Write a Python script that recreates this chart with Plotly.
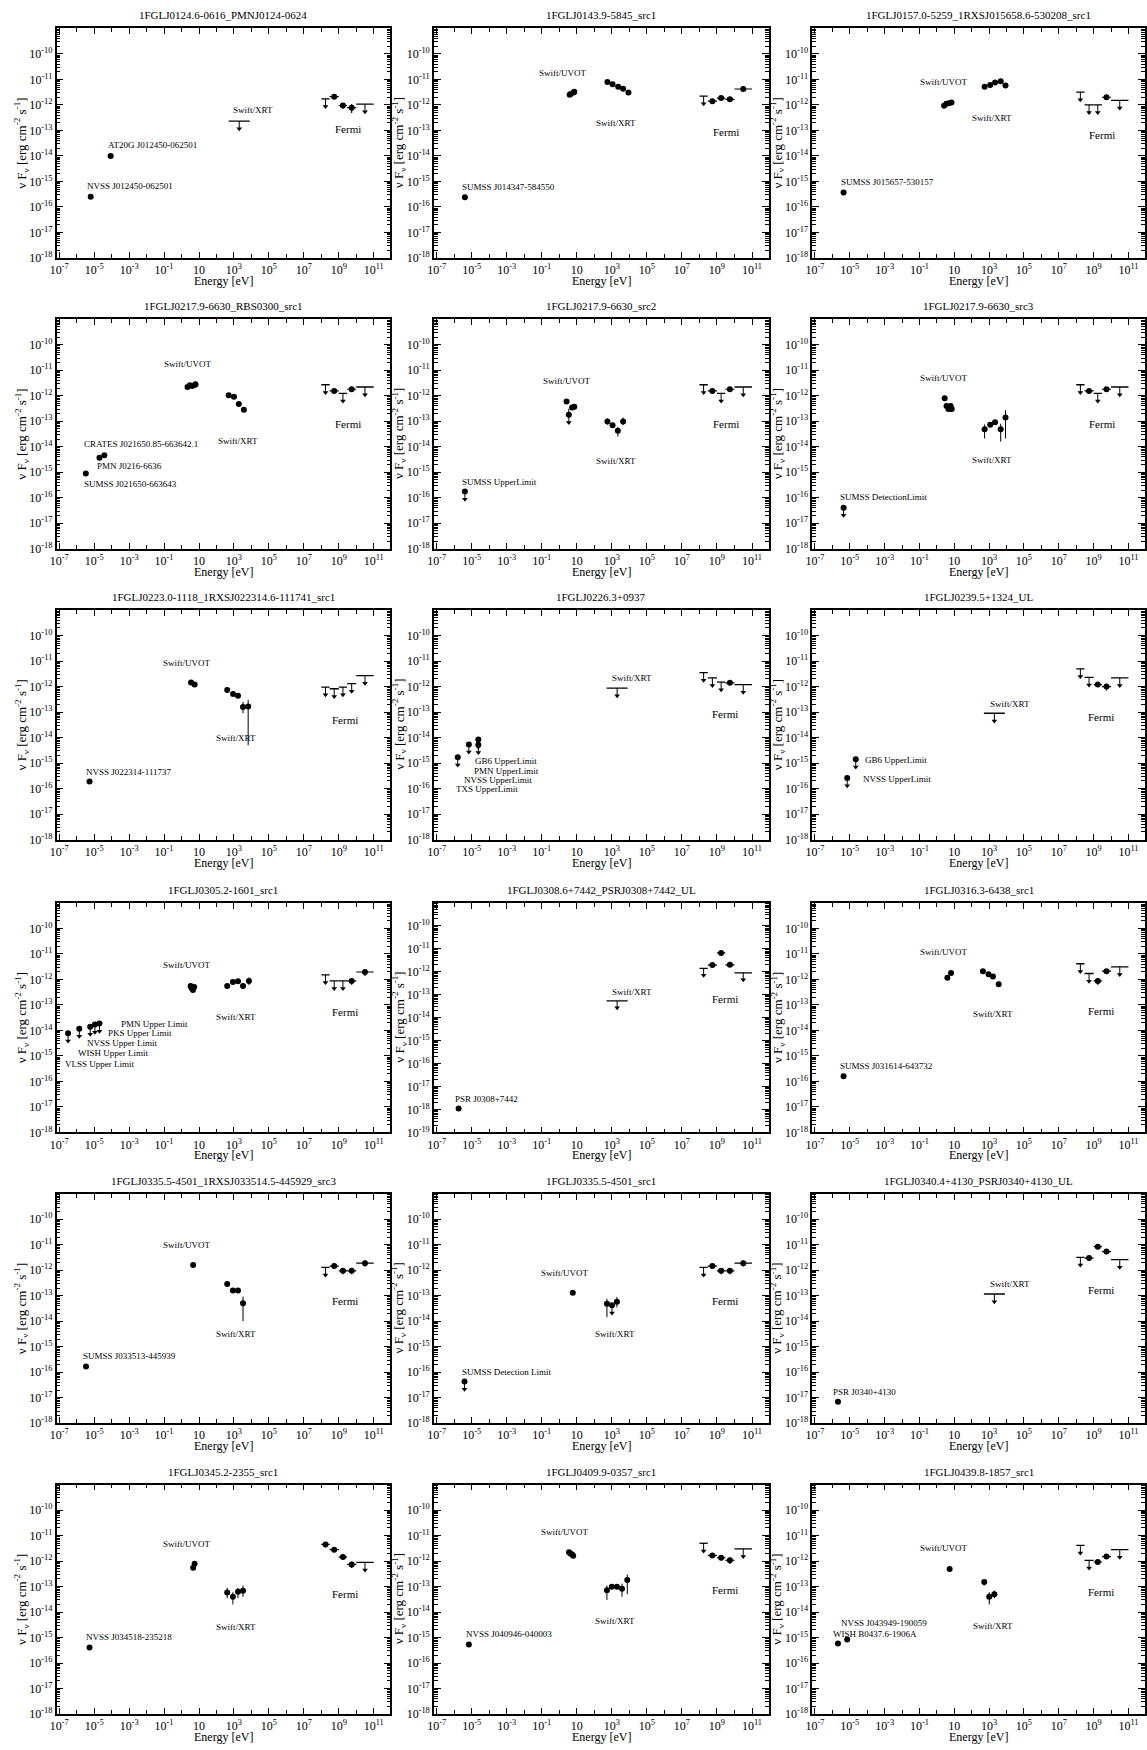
import plotly.graph_objects as go

# ---------------------------------------------------------------- data
TITLES = [
    "1FGLJ0124.6-0616_PMNJ0124-0624",
    "1FGLJ0143.9-5845_src1",
    "1FGLJ0157.0-5259_1RXSJ015658.6-530208_src1",
    "1FGLJ0217.9-6630_RBS0300_src1",
    "1FGLJ0217.9-6630_src2",
    "1FGLJ0217.9-6630_src3",
    "1FGLJ0223.0-1118_1RXSJ022314.6-111741_src1",
    "1FGLJ0226.3+0937",
    "1FGLJ0239.5+1324_UL",
    "1FGLJ0305.2-1601_src1",
    "1FGLJ0308.6+7442_PSRJ0308+7442_UL",
    "1FGLJ0316.3-6438_src1",
    "1FGLJ0335.5-4501_1RXSJ033514.5-445929_src3",
    "1FGLJ0335.5-4501_src1",
    "1FGLJ0340.4+4130_PSRJ0340+4130_UL",
    "1FGLJ0345.2-2355_src1",
    "1FGLJ0409.9-0357_src1",
    "1FGLJ0439.8-1857_src1",
]

# lowest decade of the flux axis (top is always 1e-9)
Y_FLOOR = [-18, -18, -18, -18, -18, -18, -18, -18, -18,
           -18, -19, -18, -18, -18, -18, -18, -18, -18]

# detected points (radio / UVOT / XRT): energy [eV], nuFnu [erg cm^-2 s^-1]
DOT_E = [
    [6.3e-6, 8.7e-5],
    [4.1e-6, 3.9, 4.4, 6.6, 7.2, 560, 1100, 2300, 4400, 8900],
    [4.4e-6, 2.6, 3.5, 4.9, 6.9, 550, 1150, 2200, 4600, 8700],
    [3.3e-6, 2.0e-5, 3.8e-5, 2.2, 3.0, 4.1, 5.9, 6.3, 500, 1000, 1900, 3700],
    [2.6, 5.4, 7.2, 560, 1100, 2200, 4400],
    [2.8, 3.6, 4.6, 5.2, 6.2, 7.1, 550, 1150, 2200, 4600, 8700],
    [5.4e-6, 3.5, 5.6, 410, 890, 1700, 3300, 6500],
    [],
    [],
    [3.3, 3.8, 4.5, 5.3, 410, 870, 1700, 3300, 7200],
    [1.8e-6],
    [4.4e-6, 4.0, 6.5, 440, 930, 1660, 3550],
    [3.4e-6, 4.6, 410, 870, 1700, 3300],
    [5.9, 525, 1950],
    [2.1e-6],
    [5.4e-6, 4.6, 5.6, 410, 870, 1700, 3300],
    [6.9e-6, 3.6, 4.3, 5.4, 6.2, 525, 1000, 1950, 3800, 7600],
    [2.1e-6, 7.1e-6, 5.4, 525, 1020, 2000],
]
DOT_F = [
    [2.5e-16, 1.0e-14],
    [2.4e-16, 2.5e-12, 2.7e-12, 3.1e-12, 3.3e-12, 8.0e-12, 6.5e-12, 5.1e-12, 4.3e-12, 3.1e-12],
    [3.7e-16, 9.2e-13, 1.12e-12, 1.15e-12, 1.23e-12, 5.1e-12, 6.0e-12, 7.6e-12, 8.5e-12, 5.8e-12],
    [8.9e-16, 3.7e-15, 4.6e-15, 2.2e-12, 2.6e-12, 2.4e-12, 2.7e-12, 2.8e-12, 1.04e-12, 9.1e-13, 4.7e-13, 2.8e-13],
    [5.9e-13, 3.5e-13, 3.7e-13, 9.8e-14, 6.9e-14, 4.2e-14, 9.8e-14],
    [8e-13, 4e-13, 3e-13, 3.5e-13, 4e-13, 3e-13, 4.9e-14, 7.3e-14, 9.1e-14, 4.9e-14, 1.4e-13],
    [1.9e-16, 1.45e-12, 1.2e-12, 7.4e-13, 5.1e-13, 4.4e-13, 1.6e-13, 1.65e-13],
    [],
    [],
    [5.5e-13, 4.5e-13, 3.8e-13, 5.0e-13, 5.5e-13, 7.9e-13, 8.5e-13, 5.5e-13, 8.7e-13],
    [1.1e-18],
    [1.6e-16, 1.17e-12, 1.8e-12, 2.1e-12, 1.6e-12, 1.3e-12, 6.4e-13],
    [1.7e-16, 1.6e-12, 2.9e-13, 1.6e-13, 1.6e-13, 5.1e-14],
    [1.3e-13, 4.9e-14, 5.8e-14],
    [7e-18],
    [4.1e-16, 5.5e-13, 7.9e-13, 5.9e-14, 4.0e-14, 6.2e-14, 6.8e-14],
    [5.4e-16, 2.2e-12, 2.0e-12, 1.8e-12, 1.6e-12, 7.2e-14, 9.8e-14, 9.8e-14, 8.3e-14, 1.8e-13],
    [5.9e-16, 8.5e-16, 4.9e-13, 1.5e-13, 4e-14, 5e-14],
]

# vertical error bars on the X-ray / optical points: energy, lower and upper flux
ERR_E = [[], [], [], [],
         [560, 2200, 4400, 3.5],
         [550, 4600, 8700],
         [3300, 6500],
         [], [],
         [7200],
         [], [],
         [3300],
         [525, 1950],
         [],
         [410, 870, 1700, 3300],
         [525, 3800, 7600],
         [525, 1020, 2000]]
ERR_LO = [[], [], [], [],
          [7.5e-14, 2.5e-14, 7e-14, 1.8e-13],
          [2.1e-14, 1.6e-14, 2.1e-14],
          [9e-14, 5e-15],
          [], [],
          [6e-13],
          [], [],
          [1e-14],
          [1.45e-14, 3.5e-14],
          [],
          [3.5e-14, 2e-14, 3.5e-14, 4e-14],
          [3e-14, 4e-14, 5e-14],
          [1.1e-13, 2e-14, 3.5e-14]]
ERR_HI = [[], [], [], [],
          [1.3e-13, 6e-14, 1.4e-13, 3.1e-13],
          [7.5e-14, 8e-14, 2.7e-13],
          [2.5e-13, 3e-13],
          [], [],
          [1.2e-12],
          [], [],
          [9.3e-14],
          [7.6e-14, 9e-14],
          [],
          [9e-14, 6e-14, 9e-14, 1.1e-13],
          [1.1e-13, 1.3e-13, 3e-13],
          [2e-13, 6e-14, 7e-14]]

# upper limits drawn as a dot with a downward arrow
ULDOT_E = [[], [], [], [],
           [4.1e-6, 3.5],
           [4.4e-6],
           [],
           [1.6e-6, 6.9e-6, 2.4e-5, 2.4e-5],
           [7.1e-6, 2.2e-5],
           [3.2e-7, 1.4e-6, 5.9e-6, 1.1e-5, 2.0e-5],
           [], [], [],
           [3.9e-6, 1020],
           [], [], [], []]
ULDOT_F = [[], [], [], [],
           [1.75e-16, 1.8e-13],
           [4.1e-17],
           [],
           [1.7e-15, 5.4e-15, 8.5e-15, 5.2e-15],
           [2.6e-16, 1.4e-15],
           [7.7e-15, 1.17e-14, 1.4e-14, 1.7e-14, 1.86e-14],
           [], [], [],
           [4.3e-17, 4.2e-14],
           [], [], [], []]

# Swift/XRT band upper limit (0.5-8 keV)
XRT_BAND = [500.0, 8000.0]
XRT_UL_F = [2.3e-13, None, None, None, None, None, None, 8.7e-13, 9e-14,
            None, 5.4e-14, None, None, None, 1.17e-13, None, None, None]

# Fermi-LAT bands [eV]
FERMI_LO = [1e8, 3e8, 1e9, 3e9, 1e10]
FERMI_HI = [3e8, 1e9, 3e9, 1e10, 1e11]
FERMI_F = [
    [1.74e-12, 2.1e-12, 9.5e-13, 7.8e-13, 1.07e-12],
    [2.2e-12, 1.4e-12, 1.85e-12, 1.65e-12, 4.2e-12],
    [3.2e-12, 1.0e-12, 1.0e-12, 2.0e-12, 1.5e-12],
    [2.7e-12, 1.55e-12, 1.23e-12, 1.8e-12, 2.2e-12],
    [2.7e-12, 1.55e-12, 1.23e-12, 1.8e-12, 2.2e-12],
    [2.7e-12, 1.55e-12, 1.23e-12, 1.8e-12, 2.2e-12],
    [9.5e-13, 8.2e-13, 9.5e-13, 1.3e-12, 2.7e-12],
    [3.5e-12, 2.2e-12, 1.5e-12, 1.4e-12, 1.2e-12],
    [4.9e-12, 2.3e-12, 1.2e-12, 1.0e-12, 2.2e-12],
    [1.5e-12, 8.7e-13, 8.7e-13, 8.7e-13, 1.95e-12],
    [1.4e-12, 1.95e-12, 6.6e-12, 2.0e-12, 8.9e-13],
    [4.1e-12, 1.7e-12, 8.7e-13, 2.1e-12, 3.1e-12],
    [1.3e-12, 1.45e-12, 9.5e-13, 9.5e-13, 1.9e-12],
    [1.3e-12, 1.45e-12, 9.5e-13, 9.5e-13, 1.9e-12],
    [3.2e-12, 3.0e-12, 8.4e-12, 5.4e-12, 2.6e-12],
    [4.5e-12, 2.8e-12, 1.43e-12, 7.4e-13, 8.9e-13],
    [5e-12, 1.66e-12, 1.35e-12, 1.07e-12, 3e-12],
    [4.1e-12, 1.07e-12, 9.2e-13, 1.5e-12, 2.8e-12],
]
FERMI_UL = [
    [1, 0, 0, 0, 1], [1, 0, 0, 0, 0], [1, 1, 1, 0, 1],
    [1, 0, 1, 0, 1], [1, 0, 1, 0, 1], [1, 0, 1, 0, 1],
    [1, 1, 1, 1, 1], [1, 1, 1, 0, 1], [1, 1, 0, 0, 1],
    [1, 1, 1, 0, 0], [1, 0, 0, 0, 1], [1, 1, 0, 0, 1],
    [1, 0, 0, 0, 0], [1, 0, 0, 0, 0], [1, 0, 0, 0, 1],
    [0, 0, 0, 0, 1], [1, 0, 0, 0, 1], [1, 1, 0, 0, 1],
]
FERMI_SIG = [
    [0, 3e-13, 2.5e-13, 3e-13, 0],
    [0, 3e-13, 3e-13, 3e-13, 8e-13],
    [0, 0, 0, 3e-13, 0],
    [0, 2.5e-13, 0, 3e-13, 0],
    [0, 2.5e-13, 0, 3e-13, 0],
    [0, 2.5e-13, 0, 3e-13, 0],
    [0, 0, 0, 0, 0],
    [0, 0, 0, 2.5e-13, 0],
    [0, 0, 2e-13, 3e-13, 0],
    [0, 0, 0, 2.5e-13, 6e-13],
    [0, 3e-13, 1e-12, 3e-13, 0],
    [0, 0, 2.5e-13, 4e-13, 0],
    [0, 2.5e-13, 2.5e-13, 2.5e-13, 5e-13],
    [0, 2.5e-13, 2.5e-13, 2.5e-13, 5e-13],
    [0, 5e-13, 1e-12, 7e-13, 0],
    [1e-12, 4e-13, 2.5e-13, 2e-13, 0],
    [0, 3e-13, 3e-13, 3e-13, 0],
    [0, 0, 2e-13, 3e-13, 0],
]

# text labels: (text, log10 E, log10 nuFnu, anchor)
LABELS = [
    [("NVSS J012450-062501", -5.52, -15.18, "l"), ("AT20G J012450-062501", -4.35, -13.58, "l"),
     ("Swift/XRT", 4.08, -12.21, "c"), ("Fermi", 9.53, -12.93, "c")],
    [("SUMSS J014347-584550", -5.64, -15.20, "l"), ("Swift/UVOT", 0.2, -10.74, "c"),
     ("Swift/XRT", 3.23, -12.72, "c"), ("Fermi", 9.52, -13.06, "c")],
    [("SUMSS J015657-530157", -5.64, -15.01, "l"), ("Swift/UVOT", 0.41, -11.11, "c"),
     ("Swift/XRT", 3.15, -12.5, "c"), ("Fermi", 9.48, -13.16, "c")],
    [("CRATES J021650.85-663642.1", -5.71, -13.90, "l"), ("PMN J0216-6636", -4.95, -14.77, "l"),
     ("SUMSS J021650-663643", -5.71, -15.47, "l"), ("Swift/UVOT", 0.35, -10.74, "c"),
     ("Swift/XRT", 3.23, -13.77, "c"), ("Fermi", 9.52, -13.09, "c")],
    [("SUMSS UpperLimit", -5.67, -15.38, "l"), ("Swift/UVOT", 0.42, -11.44, "c"),
     ("Swift/XRT", 3.23, -14.56, "c"), ("Fermi", 9.52, -13.12, "c")],
    [("SUMSS DetectionLimit", -5.70, -15.97, "l"), ("Swift/UVOT", 0.41, -11.31, "c"),
     ("Swift/XRT", 3.15, -14.53, "c"), ("Fermi", 9.48, -13.12, "c")],
    [("NVSS J022314-111737", -5.56, -15.34, "l"), ("Swift/UVOT", 0.34, -11.09, "c"),
     ("Swift/XRT", 3.11, -14.0, "c"), ("Fermi", 9.36, -13.3, "c")],
    [("GB6 UpperLimit", -4.93, -14.91, "l"), ("PMN UpperLimit", -4.99, -15.30, "l"),
     ("NVSS UpperLimit", -5.54, -15.67, "l"), ("TXS UpperLimit", -6.03, -16.02, "l"),
     ("Swift/XRT", 4.17, -11.67, "c"), ("Fermi", 9.47, -13.09, "c")],
    [("GB6 UpperLimit", -4.25, -14.86, "l"), ("NVSS UpperLimit", -4.33, -15.61, "l"),
     ("Swift/XRT", 4.17, -12.68, "c"), ("Fermi", 9.44, -13.2, "c")],
    [("PMN Upper Limit", -3.56, -13.73, "l"), ("PKS Upper Limit", -4.33, -14.11, "l"),
     ("NVSS Upper Limit", -5.50, -14.50, "l"), ("WISH Upper Limit", -6.07, -14.89, "l"),
     ("VLSS Upper Limit", -6.76, -15.30, "l"), ("Swift/UVOT", 0.34, -11.45, "c"),
     ("Swift/XRT", 3.11, -13.46, "c"), ("Fermi", 9.36, -13.26, "c")],
    [("PSR J0308+7442", -6.07, -17.54, "l"), ("Swift/XRT", 4.17, -12.88, "c"),
     ("Fermi", 9.47, -13.17, "c")],
    [("SUMSS J031614-643732", -5.69, -15.38, "l"), ("Swift/UVOT", 0.41, -10.93, "c"),
     ("Swift/XRT", 3.22, -13.36, "c"), ("Fermi", 9.44, -13.23, "c")],
    [("SUMSS J033513-445939", -5.76, -15.37, "l"), ("Swift/UVOT", 0.34, -11.01, "c"),
     ("Swift/XRT", 3.11, -14.5, "c"), ("Fermi", 9.36, -13.22, "c")],
    [("SUMSS Detection Limit", -5.66, -15.98, "l"), ("Swift/UVOT", 0.35, -12.11, "c"),
     ("Swift/XRT", 3.17, -14.5, "c"), ("Fermi", 9.47, -13.22, "c")],
    [("PSR J0340+4130", -6.07, -16.76, "l"), ("Swift/XRT", 4.17, -12.53, "c"),
     ("Fermi", 9.44, -12.77, "c")],
    [("NVSS J034518-235218", -5.56, -14.99, "l"), ("Swift/UVOT", 0.34, -11.32, "c"),
     ("Swift/XRT", 3.11, -14.57, "c"), ("Fermi", 9.36, -13.31, "c")],
    [("NVSS J040946-040003", -5.45, -14.86, "l"), ("Swift/UVOT", 0.35, -10.86, "c"),
     ("Swift/XRT", 3.17, -14.34, "c"), ("Fermi", 9.47, -13.14, "c")],
    [("NVSS J043949-190059", -5.60, -14.41, "l"), ("WISH B0437.6-1906A", -6.07, -14.84, "l"),
     ("Swift/UVOT", 0.41, -11.49, "c"), ("Swift/XRT", 3.22, -14.55, "c"),
     ("Fermi", 9.44, -13.23, "c")],
]

# ---------------------------------------------------------------- style / layout
FIG_W, FIG_H = 1147, 1750
FONT = "Liberation Serif"
COL_PX = [(50, 386), (430, 767), (811, 1146)]
ROW_BOTTOM_PX = [259, 551, 843, 1137, 1429, 1721]
BOX_H = 230.5
X_RANGE = [-7.15, 11.95]
ARROW_DEX = 0.3
BLACK = "black"

X_MAJOR = [10.0 ** k for k in range(-7, 12, 2)]
X_TEXT = ["10" if k == 1 else "10<sup>%d</sup>" % k for k in range(-7, 12, 2)]
X_MINOR = [10.0 ** k for k in range(-6, 12, 2)]


def segments(pairs):
    """Join (x0, y0, x1, y1) segments into one gapped polyline."""
    xs, ys = [], []
    for x0, y0, x1, y1 in pairs:
        xs += [x0, x1, None]
        ys += [y0, y1, None]
    return xs, ys


fig = go.Figure()
annotations = []
layout = {}

for i in range(18):
    r, c = divmod(i, 3)
    sfx = "" if i == 0 else str(i + 1)
    xa, ya = "x" + sfx, "y" + sfx
    L, R = COL_PX[c]
    bot = ROW_BOTTOM_PX[r]
    top = bot - BOX_H
    floor = Y_FLOOR[i]

    common = dict(xaxis=xa, yaxis=ya, showlegend=False, hoverinfo="skip")

    # vertical error bars for the dots
    if ERR_E[i]:
        ex, ey = segments([(e, lo, e, hi) for e, lo, hi in zip(ERR_E[i], ERR_LO[i], ERR_HI[i])])
        fig.add_trace(go.Scatter(x=ex, y=ey, mode="lines",
                                 line=dict(color=BLACK, width=1), **common))

    # detected points
    if DOT_E[i]:
        fig.add_trace(go.Scatter(x=DOT_E[i], y=DOT_F[i], mode="markers",
                                 marker=dict(symbol="circle", size=6, color=BLACK), **common))

    # arrows for every kind of upper limit, and the band bars of band limits
    arrows = []
    bars = []

    for e, f in zip(ULDOT_E[i], ULDOT_F[i]):
        arrows.append((e, f))
    if ULDOT_E[i]:
        fig.add_trace(go.Scatter(x=ULDOT_E[i], y=ULDOT_F[i], mode="markers",
                                 marker=dict(symbol="circle", size=6, color=BLACK), **common))

    if XRT_UL_F[i] is not None:
        f = XRT_UL_F[i]
        bars.append((XRT_BAND[0], f, XRT_BAND[1], f))
        arrows.append(((XRT_BAND[0] * XRT_BAND[1]) ** 0.5, f))

    # Fermi bands
    det_x, det_y, det_xm, det_xp, det_s = [], [], [], [], []
    for k in range(5):
        lo, hi = FERMI_LO[k], FERMI_HI[k]
        mid = (lo * hi) ** 0.5
        f = FERMI_F[i][k]
        if FERMI_UL[i][k]:
            bars.append((lo, f, hi, f))
            arrows.append((mid, f))
        else:
            det_x.append(mid)
            det_y.append(f)
            det_xm.append(mid - lo)
            det_xp.append(hi - mid)
            det_s.append(FERMI_SIG[i][k])
    if det_x:
        fig.add_trace(go.Scatter(
            x=det_x, y=det_y, mode="markers",
            marker=dict(symbol="circle", size=6, color=BLACK),
            error_x=dict(type="data", array=det_xp, arrayminus=det_xm,
                         color=BLACK, thickness=1.2, width=0),
            error_y=dict(type="data", array=det_s, arrayminus=det_s,
                         color=BLACK, thickness=1.2, width=0),
            **common))

    if bars:
        bx, by = segments(bars)
        fig.add_trace(go.Scatter(x=bx, y=by, mode="lines",
                                 line=dict(color=BLACK, width=1.3), **common))
    if arrows:
        tips = [(x, y * 10 ** (-ARROW_DEX)) for x, y in arrows]
        sx, sy = segments([(x, y, x, t) for (x, y), (_, t) in zip(arrows, tips)])
        fig.add_trace(go.Scatter(x=sx, y=sy, mode="lines",
                                 line=dict(color=BLACK, width=1), **common))
        fig.add_trace(go.Scatter(x=[t[0] for t in tips], y=[t[1] for t in tips],
                                 mode="markers",
                                 marker=dict(symbol="triangle-down", size=5, color=BLACK),
                                 **common))

    # axes
    y_major = [10.0 ** k for k in range(floor, -9)]
    y_text = ["10<sup>%d</sup>" % k for k in range(floor, -9)]
    y_minor = [m * 10.0 ** k for k in range(floor, -9) for m in range(2, 10)]

    layout["xaxis" + sfx] = dict(
        domain=[L / FIG_W, R / FIG_W], anchor=ya, type="log", range=X_RANGE,
        showline=True, linecolor=BLACK, linewidth=1.6, mirror="allticks",
        ticks="inside", ticklen=6, tickwidth=1, tickcolor=BLACK,
        tickmode="array", tickvals=X_MAJOR, ticktext=X_TEXT,
        minor=dict(tickmode="array", tickvals=X_MINOR, ticks="inside",
                   ticklen=4, tickwidth=1, tickcolor=BLACK),
        tickfont=dict(family=FONT, size=12, color=BLACK),
        showgrid=False, zeroline=False, fixedrange=True,
    )
    layout["yaxis" + sfx] = dict(
        domain=[1 - bot / FIG_H, 1 - top / FIG_H], anchor=xa, type="log",
        range=[floor, -9],
        showline=True, linecolor=BLACK, linewidth=1.6, mirror="allticks",
        ticks="inside", ticklen=7, tickwidth=1, tickcolor=BLACK,
        tickmode="array", tickvals=y_major, ticktext=y_text,
        minor=dict(tickmode="array", tickvals=y_minor, ticks="inside",
                   ticklen=4, tickwidth=1, tickcolor=BLACK),
        tickfont=dict(family=FONT, size=12, color=BLACK),
        showgrid=False, zeroline=False, fixedrange=True,
    )

    # panel title and axis titles
    annotations.append(dict(text=TITLES[i], xref=xa + " domain", yref=ya + " domain",
                            x=0.5, y=1, xanchor="center", yanchor="bottom", yshift=5,
                            showarrow=False, font=dict(family=FONT, size=11, color=BLACK)))
    annotations.append(dict(text="Energy [eV]", xref=xa + " domain", yref=ya + " domain",
                            x=0.5, y=0, xanchor="center", yanchor="middle", yshift=-23,
                            showarrow=False, font=dict(family=FONT, size=12, color=BLACK)))
    annotations.append(dict(text="ν F<sub>ν</sub> [erg cm<sup>-2</sup> s<sup>-1</sup>]",
                            xref=xa + " domain", yref=ya + " domain",
                            x=0, y=0.5, xanchor="center", yanchor="middle", xshift=-35,
                            textangle=-90, showarrow=False,
                            font=dict(family=FONT, size=13, color=BLACK)))

    # source / instrument labels
    for text, lx, ly, anc in LABELS[i]:
        annotations.append(dict(text=text, xref=xa, yref=ya, x=lx, y=ly,
                                xanchor="left" if anc == "l" else "center",
                                yanchor="middle", showarrow=False,
                                font=dict(family=FONT, size=11 if text == "Fermi" else 9,
                                          color=BLACK)))

fig.update_layout(
    width=FIG_W, height=FIG_H,
    margin=dict(l=0, r=0, t=0, b=0),
    paper_bgcolor="white", plot_bgcolor="white",
    font=dict(family=FONT, color=BLACK),
    annotations=annotations,
    **layout,
)

fig.write_html("out.html")
